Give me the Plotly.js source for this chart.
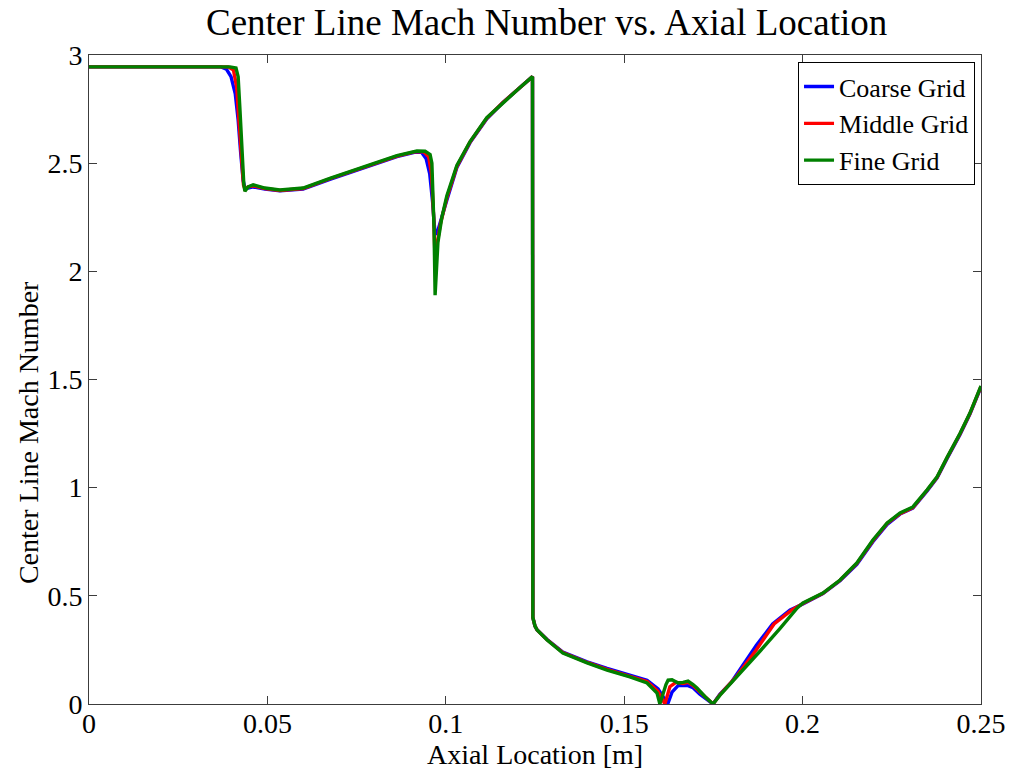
<!DOCTYPE html>
<html>
<head>
<meta charset="utf-8">
<script src="https://cdn.plot.ly/plotly-3.0.1.min.js"></script>
<style>html,body{margin:0;padding:0;background:#fff;}#chart{width:1014px;height:771px;}</style>
</head>
<body>
<div id="chart"></div>
<script>
// ---- Data ----
const seriesNames = ["Coarse Grid", "Middle Grid", "Fine Grid"];

const xCoarse = [0, 0.020, 0.0370, 0.0385, 0.0398, 0.0410, 0.0418, 0.0425, 0.0432, 0.0437,
  0.0446, 0.0460, 0.0493, 0.0535, 0.0600, 0.0675, 0.0768, 0.0863, 0.0912, 0.0932,
  0.0945, 0.0955, 0.0963, 0.0970, 0.0978, 0.0990, 0.1003, 0.1031, 0.1068, 0.1115,
  0.1160, 0.1208, 0.1243, 0.1244, 0.1250, 0.1256, 0.1284, 0.1328, 0.1396, 0.1452,
  0.1516, 0.1564, 0.1595, 0.1622, 0.1634, 0.1651, 0.1665, 0.1679, 0.1693, 0.1712,
  0.1749, 0.1768, 0.1800, 0.1835, 0.1870, 0.1916, 0.1965, 0.2001, 0.2057, 0.2105,
  0.2152, 0.2197, 0.2237, 0.2273, 0.2309, 0.2349, 0.2377, 0.2405, 0.2441, 0.2469, 0.2500];
const yCoarse = [2.945, 2.945, 2.945, 2.935, 2.90, 2.82, 2.70, 2.55, 2.42, 2.385,
  2.385, 2.39, 2.38, 2.372, 2.38, 2.425, 2.475, 2.53, 2.55, 2.55,
  2.52, 2.45, 2.32, 2.17, 2.19, 2.26, 2.33, 2.48, 2.595, 2.705,
  2.78, 2.85, 2.90, 0.40, 0.36, 0.342, 0.298, 0.24, 0.195, 0.165,
  0.135, 0.11, 0.07, 0.0, 0.055, 0.085, 0.085, 0.085, 0.075, 0.045,
  0.0, 0.045, 0.10, 0.185, 0.27, 0.37, 0.435, 0.462, 0.51, 0.57,
  0.645, 0.75, 0.83, 0.878, 0.905, 0.985, 1.045, 1.135, 1.245, 1.34, 1.465];

const xMiddle = [0, 0.020, 0.0390, 0.0405, 0.0414, 0.0420, 0.0427, 0.0433, 0.0437, 0.0446,
  0.0460, 0.0493, 0.0535, 0.0600, 0.0675, 0.0768, 0.0863, 0.0915, 0.0938, 0.0952,
  0.0960, 0.0966, 0.0970, 0.0975, 0.0985, 0.1003, 0.1031, 0.1068, 0.1115, 0.1160,
  0.1208, 0.1243, 0.1244, 0.1250, 0.1256, 0.1284, 0.1328, 0.1396, 0.1452, 0.1516,
  0.1564, 0.1594, 0.1614, 0.1628, 0.1645, 0.1665, 0.1679, 0.1693, 0.1704, 0.1726,
  0.1749, 0.1768, 0.1816, 0.1870, 0.1920, 0.1970, 0.2001, 0.2057, 0.2105, 0.2152,
  0.2197, 0.2237, 0.2273, 0.2309, 0.2349, 0.2377, 0.2405, 0.2441, 0.2469, 0.2500];
const yMiddle = [2.945, 2.945, 2.945, 2.93, 2.85, 2.70, 2.52, 2.40, 2.38, 2.39,
  2.395, 2.383, 2.374, 2.383, 2.428, 2.478, 2.533, 2.553, 2.553, 2.53,
  2.45, 2.25, 2.05, 2.12, 2.22, 2.34, 2.485, 2.598, 2.708, 2.78,
  2.85, 2.90, 0.40, 0.36, 0.342, 0.297, 0.238, 0.192, 0.16, 0.13,
  0.104, 0.06, 0.0, 0.08, 0.10, 0.095, 0.10, 0.085, 0.07, 0.035,
  0.0, 0.042, 0.13, 0.25, 0.37, 0.435, 0.465, 0.512, 0.572, 0.65,
  0.755, 0.835, 0.88, 0.908, 0.988, 1.048, 1.138, 1.248, 1.343, 1.468];

const xFine = [0, 0.020, 0.0395, 0.0412, 0.0418, 0.0423, 0.0429, 0.0434, 0.0437, 0.0446,
  0.0460, 0.0493, 0.0535, 0.0600, 0.0675, 0.0768, 0.0863, 0.0919, 0.0942, 0.0956,
  0.0961, 0.0967, 0.0970, 0.0972, 0.0978, 0.0989, 0.1003, 0.1031, 0.1068, 0.1115,
  0.1160, 0.1208, 0.1243, 0.1244, 0.1250, 0.1256, 0.1284, 0.1328, 0.1396, 0.1452,
  0.1516, 0.1564, 0.1592, 0.1600, 0.1617, 0.1623, 0.1634, 0.1651, 0.1665, 0.1679,
  0.1693, 0.1704, 0.1726, 0.1749, 0.1768, 0.1816, 0.1881, 0.1937, 0.1985, 0.2001,
  0.2057, 0.2105, 0.2152, 0.2197, 0.2237, 0.2273, 0.2309, 0.2349, 0.2377, 0.2405,
  0.2441, 0.2469, 0.2500];
const yFine = [2.945, 2.945, 2.945, 2.94, 2.90, 2.75, 2.55, 2.40, 2.37, 2.39,
  2.40, 2.385, 2.376, 2.385, 2.43, 2.48, 2.535, 2.556, 2.555, 2.54,
  2.50, 2.20, 1.89, 1.95, 2.135, 2.25, 2.35, 2.49, 2.60, 2.71,
  2.78, 2.85, 2.90, 0.40, 0.36, 0.342, 0.296, 0.236, 0.19, 0.157,
  0.125, 0.097, 0.05, 0.0, 0.09, 0.11, 0.112, 0.097, 0.10, 0.106,
  0.09, 0.074, 0.035, 0.0, 0.04, 0.125, 0.245, 0.35, 0.444, 0.467,
  0.513, 0.573, 0.652, 0.758, 0.837, 0.883, 0.911, 0.99, 1.05, 1.14,
  1.25, 1.345, 1.47];

const xTickVals = [0, 0.05, 0.1, 0.15, 0.2, 0.25];
const xTickText = ["0", "0.05", "0.1", "0.15", "0.2", "0.25"];
const yTickVals = [0, 0.5, 1, 1.5, 2, 2.5, 3];
const yTickText = ["0", "0.5", "1", "1.5", "2", "2.5", "3"];

const titleText = "Center Line Mach Number vs. Axial Location";
const xTitleText = "Axial Location [m]";
const yTitleText = "Center Line Mach Number";

// ---- Chart ----
const FONT = "Liberation Serif, Times New Roman, serif";
const colors = ["#0000ff", "#ff0000", "#008000"];
const xs = [xCoarse, xMiddle, xFine];
const ys = [yCoarse, yMiddle, yFine];

const traces = seriesNames.map((name, i) => ({
  type: "scatter", mode: "lines", name: name,
  x: xs[i], y: ys[i],
  line: {color: colors[i], width: 3.4}
}));

const axisCommon = {
  showline: true, linecolor: "#3c3c3c", linewidth: 1, mirror: "allticks",
  ticks: "inside", ticklen: 8, tickwidth: 1, tickcolor: "#3c3c3c",
  showgrid: false, zeroline: false, automargin: false,
  tickfont: {family: FONT, size: 28, color: "#000"}
};

const layout = {
  width: 1014, height: 771,
  margin: {l: 89, r: 33, t: 55, b: 67},
  paper_bgcolor: "#fff", plot_bgcolor: "#fff",
  title: {
    text: titleText,
    font: {family: FONT, size: 37, color: "#000"},
    xref: "paper", x: 0.513, xanchor: "center",
    yref: "container", y: 0.972, yanchor: "middle"
  },
  xaxis: Object.assign({}, axisCommon, {
    range: [0, 0.25], tickvals: xTickVals, ticktext: xTickText, ticklabelstandoff: -6,
    title: {text: xTitleText, font: {family: FONT, size: 28, color: "#000"}, standoff: 0}
  }),
  yaxis: Object.assign({}, axisCommon, {
    range: [0, 3], tickvals: yTickVals, ticktext: yTickText, ticklabelstandoff: 0
  }),
  annotations: [{
    text: yTitleText, textangle: -90,
    xref: "paper", yref: "paper", x: -0.0684, y: 0.419,
    xanchor: "center", yanchor: "middle", showarrow: false,
    font: {family: FONT, size: 28, color: "#000"}
  }],
  legend: {
    x: 0.9933, xanchor: "right", y: 0.989, yanchor: "top",
    bgcolor: "#fff", bordercolor: "#000", borderwidth: 1,
    font: {family: FONT, size: 26, color: "#000"},
    itemwidth: 30, tracegroupgap: 0
  },
  showlegend: true
};

Plotly.newPlot("chart", traces, layout, {displayModeBar: false, staticPlot: true});
</script>
</body>
</html>
